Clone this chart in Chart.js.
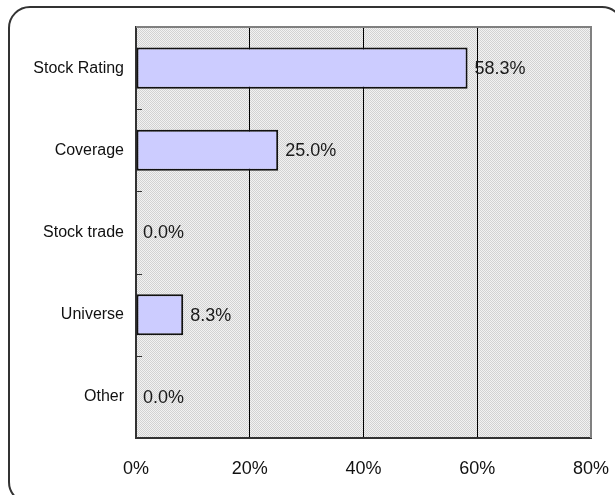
<!DOCTYPE html>
<html>
<head>
<meta charset="utf-8">
<script src="https://cdn.jsdelivr.net/npm/chart.js@4.4.1/dist/chart.umd.min.js"></script>
<style>
    html, body { margin: 0; padding: 0; background: #fff; overflow: hidden; }
    #wrap { position: relative; width: 615px; height: 495px; overflow: hidden; }
    #frame {
        position: absolute; left: 8px; top: 6px; width: 616px; height: 498px;
        border: 2px solid #333; border-radius: 22px; box-sizing: border-box;
    }
    canvas { position: absolute; left: 0; top: 0; }
</style>
</head>
<body>
<div id="wrap">
    <div id="frame"></div>
    <canvas id="chart" width="615" height="495"></canvas>
</div>
<script>
const categories = ['Stock Rating', 'Coverage', 'Stock trade', 'Universe', 'Other'];
const shares = [58.3, 25.0, 0.0, 8.3, 0.0];
const tickValues = [0, 20, 40, 60, 80];

const sans = '"Liberation Sans", Arial, sans-serif';

// dotted grey fill for the plot area
function makePattern(ctx) {
    const p = document.createElement('canvas');
    p.width = 2; p.height = 2;
    const pc = p.getContext('2d');
    pc.fillStyle = '#f2f2f2'; pc.fillRect(0, 0, 2, 2);
    pc.fillStyle = '#d2d2d2'; pc.fillRect(0, 0, 1, 1); pc.fillRect(1, 1, 1, 1);
    return ctx.createPattern(p, 'repeat');
}

const plotDecor = {
    id: 'plotDecor',
    beforeDraw(chart) {
        const { ctx, chartArea: a } = chart;
        ctx.save();
        ctx.fillStyle = makePattern(ctx);
        ctx.fillRect(a.left, a.top, a.right - a.left, a.bottom - a.top);
        ctx.restore();
    },
    afterDatasetsDraw(chart) {
        const { ctx, chartArea: a } = chart;
        const y = chart.scales.y;
        ctx.save();
        // right and top edge
        ctx.strokeStyle = '#808080';
        ctx.lineWidth = 2;
        ctx.beginPath();
        ctx.moveTo(a.left, a.top); ctx.lineTo(a.right, a.top); ctx.lineTo(a.right, a.bottom);
        ctx.stroke();
        // small ticks between categories
        ctx.strokeStyle = '#333';
        ctx.lineWidth = 1;
        for (let i = 0; i < categories.length - 1; i++) {
            const yy = Math.round((y.getPixelForValue(i) + y.getPixelForValue(i + 1)) / 2) + 0.5;
            ctx.beginPath(); ctx.moveTo(a.left, yy); ctx.lineTo(a.left + 6, yy); ctx.stroke();
        }
        // value labels
        const meta = chart.getDatasetMeta(0);
        ctx.font = '18px ' + sans;
        ctx.fillStyle = '#1a1a1a';
        ctx.textBaseline = 'middle';
        ctx.textAlign = 'left';
        meta.data.forEach((bar, i) => {
            ctx.fillText(shares[i].toFixed(1) + '%', bar.x + 7, bar.y + 1);
        });
        ctx.restore();
    }
};

const chart = new Chart(document.getElementById('chart'), {
    type: 'bar',
    data: {
        labels: categories,
        datasets: [{
            data: shares,
            backgroundColor: '#ccccff',
            borderColor: '#111',
            borderWidth: 2,
            borderSkipped: false,
            barPercentage: 0.5,
            categoryPercentage: 1.0
        }]
    },
    options: {
        indexAxis: 'y',
        responsive: false,
        animation: false,
        layout: { padding: { top: 27, right: 24, left: 0, bottom: 0 } },
        plugins: { legend: { display: false }, tooltip: { enabled: false } },
        scales: {
            x: {
                min: 0, max: 80,
                afterBuildTicks(scale) { scale.ticks = tickValues.map(v => ({ value: v })); },
                afterFit(scale) {
                    scale.height = 57;
                    scale.paddingLeft = 0;
                    scale.paddingRight = 0;
                },
                grid: {
                    drawTicks: false,
                    color: c => (c.tick && (c.tick.value === 0 || c.tick.value === 80)) ? 'rgba(0,0,0,0)' : '#000',
                    lineWidth: 1
                },
                border: { color: '#333', width: 2 },
                ticks: {
                    padding: 20,
                    color: '#111',
                    font: { family: sans, size: 18 },
                    callback: v => v + '%'
                }
            },
            y: {
                afterFit(scale) { scale.width = 136; },
                grid: { display: false, drawTicks: false },
                border: { color: '#333', width: 2 },
                ticks: {
                    padding: 12,
                    color: '#111',
                    font: { family: sans, size: 16 }
                }
            }
        }
    },
    plugins: [plotDecor]
});
</script>
</body>
</html>
